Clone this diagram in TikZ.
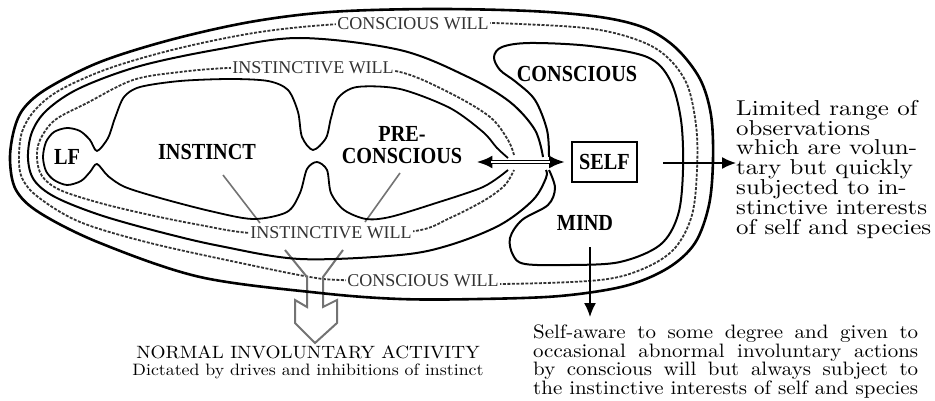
\documentclass[tikz,border=0pt]{standalone}
\usepackage{fontspec}
\usetikzlibrary{arrows.meta}
\newfontfamily\labelfont{Liberation Serif}[FakeStretch=0.88]
\newfontfamily\willfont{Liberation Serif}
\newfontfamily\notefont{lmroman10-regular}[Extension=.otf,FakeStretch=1.16]
\newfontfamily\lownotefont{lmroman10-regular}[Extension=.otf,FakeStretch=1.08]

\begin{document}
\begin{tikzpicture}[x=1pt,y=-1pt,
  wall/.style={line width=2pt,line join=round},
  will/.style={draw=black!80,line width=1.8pt,dash pattern=on 3pt off 1.5pt},
  tag/.style={font=\labelfont\bfseries\fontsize{23}{22}\selectfont,inner sep=1pt,align=center},
  willtag/.style={font=\willfont\fontsize{18}{18}\selectfont,text=black!80,fill=white,inner sep=1.5pt},
  note/.style={font=\notefont\fontsize{21.5}{19.8}\selectfont,align=left,inner sep=0pt},
  pencil/.style={draw=black!55,line width=1.6pt},
  arr/.style={line width=1.4pt,-{Latex[length=14pt,width=12pt]}}]
\useasboundingbox (0,0) rectangle (935,401);

% bands of will
\draw[will] plot[smooth cycle,tension=0.55] coordinates {(19,158) (22,132) (35,110) (60,90) (110,68) (180,48) (260,32) (340,24) (430,22) (520,24) (600,30) (655,48) (685,80) (696,125) (697,170) (692,215) (675,248) (645,268) (600,280) (500,284) (420,282) (340,280) (310,277) (250,265) (150,243) (80,222) (38,197) (22,178)};
\draw[will] plot[smooth,tension=0.55] coordinates {(514,155) (508,140) (490,117) (450,93) (400,72) (340,67) (290,67) (228,68) (180,72) (133,80) (87,103) (55,120) (40,140) (37,158) (42,176) (60,190) (100,203) (150,215) (200,225) (250,233) (330,235) (415,231) (450,218) (485,200) (505,185) (514,170)};
\node[willtag] (cwilltop) at (413,24) {CONSCIOUS WILL};
\node[willtag] (iwilltop) at (313,68) {INSTINCTIVE WILL};
\node[willtag] (iwillbot) at (331,233) {INSTINCTIVE WILL};
\node[willtag] (cwillbot) at (423,281) {CONSCIOUS WILL};

% funnel into normal activity
\coordinate (fun1) at (223,175); \coordinate (fun2) at (260,223);
\coordinate (fun3) at (400,173); \coordinate (fun4) at (365,222);
\draw[pencil] (fun1) -- (fun2);
\draw[pencil] (fun3) -- (fun4);
\draw[pencil,line width=2pt] (285,250) -- (307,277) -- (307,307) -- (295,300) -- (295,323) -- (315,343)
  -- (337,323) -- (337,300) -- (323,307) -- (323,277) -- (343,250);

% mind, instinct and conscious
\draw[wall,line width=2.6pt] plot[smooth cycle,tension=0.55] coordinates {(10,160) (14,130) (24,108) (48,88) (100,62) (170,40) (250,22) (330,12) (430,9) (530,11) (600,17) (645,28) (676,48) (700,79) (711,115) (713,160) (709,205) (695,243) (668,268) (625,286) (560,296) (480,299) (400,299) (320,293) (200,277) (100,243) (40,213) (16,190)};
\draw[wall] plot[smooth,tension=0.55] coordinates {(543,157) (535,130) (510,102) (468,77) (400,50) (300,38) (220,49) (140,66) (80,88) (47,110) (32,132) (28,158) (34,180) (55,197) (100,215) (160,232) (220,246) (300,259) (400,255) (450,245) (500,225) (533,200) (546,178) (546,170)};
\draw[wall] plot[smooth,tension=0.55] coordinates {(549,157) (547,130) (535,100) (516,82) (500,70) (494,57) (502,47) (530,43) (590,46) (647,57) (670,80) (681,120) (683,170) (678,215) (660,245) (620,262) (570,265) (525,264) (513,255) (510,238) (522,220) (548,205) (555,188) (549,170)};
\draw[wall,line width=1.8pt] plot[smooth,tension=0.5] coordinates {(508,158) (497,148) (483,132) (450,108) (400,89) (357,87) (338,98) (331,118) (326,138) (313,150) (302,137) (298,112) (288,90) (268,81) (230,79) (180,81) (140,87) (124,97) (115,118) (108,138) (97,151) (90,140) (80,131) (67,128) (54,132) (46,142) (43,157) (46,171) (54,180) (67,185) (81,181) (90,172) (97,164) (108,176) (125,187) (160,198) (210,211) (253,219) (287,212) (300,193) (307,169) (317,162) (327,170) (331,193) (344,210) (366,219) (390,217) (433,204) (483,187) (508,170)};

\node[tag] (lf) at (67,157) {LF};
\node[tag] (instinct) at (207,152) {INSTINCT};
\node[tag] (precon) at (402,145) {PRE-\\CONSCIOUS};
\node[tag] (conscious) at (577,74) {CONSCIOUS};
\node[tag,draw,line width=1.6pt,minimum width=65pt,minimum height=40pt] (self) at (604.5,162) {SELF};
\node[tag] (mind) at (585,223) {MIND};

\node[note,anchor=north west] (observ) at (736,100) {Limited range of\\observations\\which are volun-\\tary but quickly\\subjected to in-\\stinctive interests\\of self and species};
\node[note,anchor=north west,font=\lownotefont\fontsize{19.4}{17.4}\selectfont] (aware) at (533,325) {\parbox{385pt}{Self-aware to some degree and given to\linebreak occasional abnormal involuntary actions\linebreak by conscious will but always subject to\linebreak the instinctive interests of self and species}};
\node[align=center,inner sep=0pt,anchor=north,font=\lownotefont\fontsize{16.5}{17}\selectfont] (normal) at (308,346) {{\fontsize{17.8}{17}\selectfont NORMAL INVOLUNTARY ACTIVITY}\\Dictated by drives and inhibitions of instinct};

% preconscious to self, self and mind outwards
\draw[line width=4.4pt,{Latex[length=16pt,width=13pt]}-{Latex[length=16pt,width=13pt]},shorten <=13pt,shorten >=6pt] (precon.east |- self.west) -- (self.west);
\draw[white,line width=1.8pt,shorten <=28pt,shorten >=21pt] (precon.east |- self.west) -- (self.west);
\coordinate (outstart) at (663,163);
\draw[arr] (outstart) -- (outstart -| observ.west);
\coordinate (mindstart) at (590,247);
\draw[arr,shorten >=8pt] (mindstart) -- (mindstart |- aware.north);
\end{tikzpicture}
\end{document}
